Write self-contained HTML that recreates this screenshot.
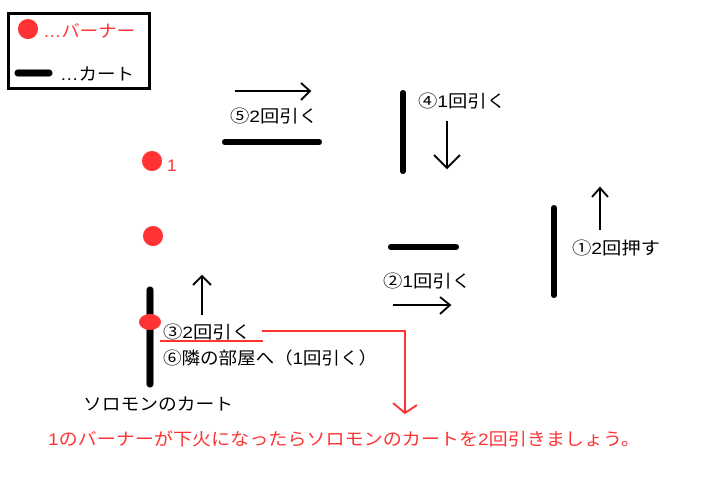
<!DOCTYPE html>
<html><head><meta charset="utf-8"><style>html,body{margin:0;padding:0;background:#fff}svg{display:block}text{font-family:"Liberation Sans","Noto Sans CJK JP",sans-serif;font-size:17px}</style></head>
<body>
<svg width="720" height="480" viewBox="0 0 720 480" xmlns="http://www.w3.org/2000/svg">
<rect width="720" height="480" fill="#fff"/>
<rect x="8.5" y="13.5" width="141" height="75" fill="none" stroke="#000" stroke-width="3"/>
<circle cx="28" cy="29" r="10" fill="#f33"/>
<text x="43" y="37" fill="#f33" textLength="92" lengthAdjust="spacingAndGlyphs">…バーナー</text>
<line x1="18" y1="73" x2="49" y2="73" stroke="#000" stroke-width="7" stroke-linecap="round"/>
<text x="60" y="80" fill="#000" textLength="74" lengthAdjust="spacingAndGlyphs">…カート</text>

<g stroke="#000" stroke-width="2" fill="none">
<line x1="235" y1="91" x2="310" y2="91"/><polyline points="301,83 310,91 301,100"/>
<line x1="447" y1="121" x2="447" y2="168"/><polyline points="434,155 447,168 460,155"/>
<line x1="393" y1="305" x2="450" y2="305"/><polyline points="440,297 450,305 440,314"/>
<line x1="600" y1="188" x2="600" y2="230"/><polyline points="592,197 600,188 608,197"/>
<line x1="202" y1="276" x2="202" y2="315"/><polyline points="193,285 202,276 211,285"/>
</g>
<g stroke="#000" stroke-linecap="round">
<line x1="225" y1="142" x2="319" y2="142" stroke-width="6"/>
<line x1="403" y1="93" x2="403" y2="171" stroke-width="6"/>
<line x1="391" y1="247" x2="456" y2="247" stroke-width="6"/>
<line x1="554" y1="208" x2="554" y2="295" stroke-width="6"/>
<line x1="150" y1="290" x2="150" y2="384" stroke-width="7"/>
</g>
<circle cx="152" cy="161" r="10" fill="#f33"/>
<text x="167" y="171" fill="#f33">1</text>
<circle cx="153" cy="236" r="10" fill="#f33"/>
<ellipse cx="150" cy="322" rx="11" ry="8" fill="#f33"/>

<g stroke="#f33" stroke-width="2" fill="none">
<line x1="160" y1="341" x2="263" y2="341"/>
<polyline points="262,331 405,331 405,413"/>
<polyline points="393,403 405,413 417,405"/>
</g>

<text x="230" y="122" textLength="88" lengthAdjust="spacingAndGlyphs">⑤2回引く</text>
<text x="418" y="107" textLength="88" lengthAdjust="spacingAndGlyphs">④1回引く</text>
<text x="383" y="287" textLength="88" lengthAdjust="spacingAndGlyphs">②1回引く</text>
<text x="572" y="254" textLength="88" lengthAdjust="spacingAndGlyphs">①2回押す</text>
<text x="163" y="338" textLength="88" lengthAdjust="spacingAndGlyphs">③2回引く</text>
<text x="163" y="364" textLength="214" lengthAdjust="spacingAndGlyphs">⑥隣の部屋へ（1回引く）</text>
<text x="83" y="410" textLength="150" lengthAdjust="spacingAndGlyphs">ソロモンのカート</text>
<text x="48" y="445" fill="#f33" textLength="592" lengthAdjust="spacingAndGlyphs">1のバーナーが下火になったらソロモンのカートを2回引きましょう。</text>
</svg>
</body></html>
